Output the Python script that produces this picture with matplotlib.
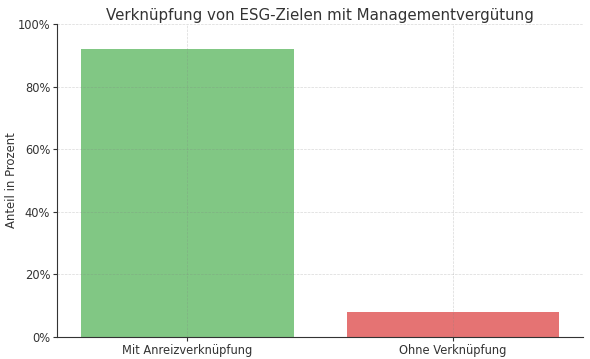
import matplotlib
matplotlib.use("Agg")
import matplotlib.pyplot as plt
from matplotlib.ticker import PercentFormatter

categories = ["Mit Anreizverknüpfung", "Ohne Verknüpfung"]
shares = [92, 8]
bar_colors = ["#81C784", "#E57373"]

text_color = "#333333"

fig, ax = plt.subplots(figsize=(5.9, 3.59), dpi=100)
ax.bar(categories, shares, color=bar_colors, width=0.8, zorder=1)
ax.set_ylim(0, 100)
ax.yaxis.set_major_formatter(PercentFormatter(decimals=0))
ax.set_ylabel("Anteil in Prozent", color=text_color, fontsize=8.4)
ax.yaxis.set_label_coords(-0.074, 0.5)
ax.set_title("Verknüpfung von ESG-Zielen mit Managementvergütung",
             color=text_color, fontsize=10.8, pad=3)
ax.grid(True, linestyle="--", linewidth=0.5, color="gray", alpha=0.3, zorder=3)
ax.set_axisbelow(False)
for side in ("top", "right"):
    ax.spines[side].set_visible(False)
for side in ("left", "bottom"):
    ax.spines[side].set_color(text_color)
ax.tick_params(colors=text_color, labelsize=8.3, length=3, pad=2)

fig.subplots_adjust(left=0.097, right=0.988, top=0.933, bottom=0.061)
fig.savefig("out.png", dpi=100)
